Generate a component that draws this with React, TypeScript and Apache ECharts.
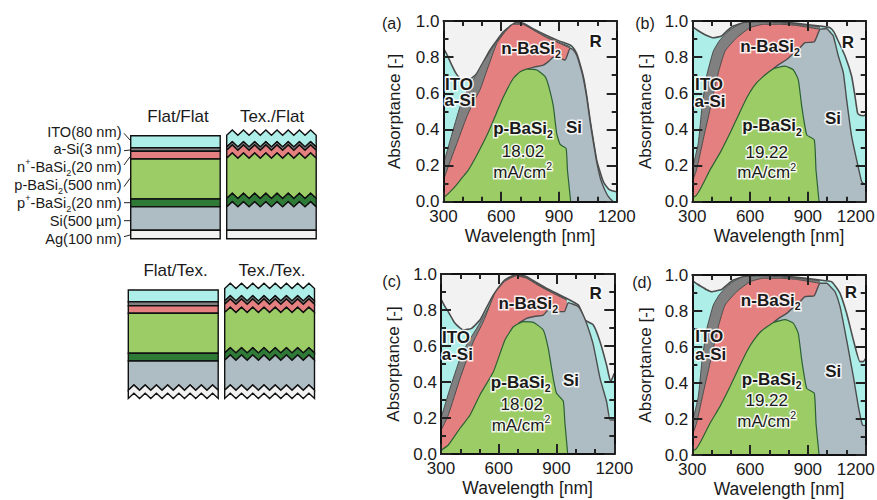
import React, { useEffect, useRef } from "react";
import * as echarts from "echarts";

type Pt = [number, number];

// Panel (a) curves: [wavelength nm, cumulative absorptance]
const totalA: Pt[] = [[300,.85],[320,.81],[343,.756],[365,.71],[386,.683],[410,.67],[430,.673],[450,.687],[473,.71],[505,.77],[542,.84],[575,.89],[611,.94],[650,.975],[680,.993],[715,.987],[770,.955],[836,.92],[900,.89],[958,.867],[975,.85],[992,.82],[1010,.76],[1027,.69],[1045,.58],[1062,.45],[1080,.33],[1096,.23],[1115,.16],[1131,.11],[1150,.08],[1165,.065],[1200,.055]];
const aSiA: Pt[] = [[300,.21],[340,.36],[386,.526],[425,.62],[464,.692],[505,.77],[542,.83],[575,.885],[611,.93],[650,.972],[680,.99],[715,.983],[770,.95],[836,.912],[900,.882],[958,.858]];
const nA: Pt[] = [[300,.12],[309,.148],[365,.31],[421,.47],[455,.55],[490,.62],[530,.74],[577,.876],[620,.94],[663,.982],[715,.98],[770,.948],[836,.908],[900,.878],[958,.85]];
const siA: Pt[] = [[733,.734],[770,.745],[819,.756],[845,.775],[871,.8],[900,.795],[932,.784],[958,.85],[975,.84],[992,.81],[1010,.75],[1027,.68],[1045,.57],[1062,.44],[1080,.32],[1096,.22],[1115,.13],[1131,.083],[1150,.04],[1165,.018],[1182,0]];
const pA: Pt[] = [[300,.02],[330,.05],[360,.083],[395,.13],[429,.175],[479,.27],[531,.38],[575,.49],[611,.58],[663,.683],[700,.72],[733,.734],[785,.729],[828,.692],[845,.645],[871,.526],[888,.378],[906,.317],[937,.295],[944,.175],[961,0]];

// Panel (b)
const totalB: Pt[] = [[300,.97],[325,.95],[348,.935],[375,.92],[409,.907],[452,.917],[480,.945],[513,.972],[582,.996],[669,1],[760,.995],[842,.987],[963,.972],[1015,.963],[1035,.94],[1050,.907],[1093,.806],[1127,.694],[1145,.58],[1158,.49],[1172,.478],[1187,.476],[1200,.48]];
const aSiB: Pt[] = [[300,.18],[331,.324],[350,.52],[374,.694],[409,.833],[440,.89],[478,.935],[520,.968],[565,.99],[669,.995],[760,.99],[842,.982],[963,.968]];
const nB: Pt[] = [[300,.11],[322,.176],[360,.36],[392,.51],[435,.713],[470,.833],[530,.907],[600,.963],[669,.982],[760,.982],[842,.975],[963,.954]];
const siB: Pt[] = [[720,.735],[750,.76],[790,.787],[825,.82],[859,.852],[885,.88],[933,.885],[963,.954],[998,.957],[1018,.935],[1032,.917],[1058,.806],[1084,.713],[1101,.565],[1127,.361],[1153,.231],[1179,.111],[1190,.1],[1200,.1]];
const pB: Pt[] = [[300,.02],[322,.037],[348,.083],[392,.176],[444,.27],[496,.38],[540,.48],[582,.574],[620,.64],[660,.685],[720,.735],[781,.75],[824,.73],[850,.676],[868,.528],[894,.37],[933,.343],[942,.176],[958,0]];

// Panel (c)
const totalC: Pt[] = [[300,.86],[320,.82],[338,.79],[373,.726],[416,.689],[459,.698],[502,.744],[535,.81],[572,.883],[632,.967],[693,.998],[745,.985],[800,.95],[849,.92],[952,.865],[1013,.828],[1030,.79],[1048,.744],[1091,.717],[1126,.624],[1160,.494],[1181,.402],[1200,.448]];
const aSiC: Pt[] = [[300,.2],[347,.365],[399,.531],[440,.62],[485,.698],[530,.78],[572,.865],[632,.957],[693,.994],[745,.98],[800,.945],[849,.915],[952,.86]];
const nC: Pt[] = [[300,.13],[338,.217],[399,.42],[468,.624],[520,.735],[580,.893],[632,.96],[693,.99],[745,.976],[800,.94],[849,.911],[952,.856]];
const siC: Pt[] = [[702,.726],[745,.754],[790,.765],[831,.772],[866,.809],[900,.791],[941,.791],[961,.841],[1013,.819],[1035,.78],[1056,.726],[1091,.606],[1126,.42],[1160,.291],[1178,.189],[1200,.189]];
const pC: Pt[] = [[300,.02],[338,.05],[399,.143],[451,.217],[502,.328],[572,.457],[632,.633],[676,.707],[728,.735],[780,.731],[831,.689],[857,.587],[883,.42],[900,.337],[935,.294],[943,.18],[958,0]];

// Panel (d)
const totalD: Pt[] = [[300,.97],[325,.95],[348,.935],[375,.918],[400,.907],[452,.92],[480,.945],[513,.972],[582,.996],[669,1],[760,.995],[842,.987],[963,.972],[1023,.963],[1045,.935],[1067,.898],[1101,.787],[1136,.639],[1170,.519],[1187,.519],[1200,.537]];
const aSiD: Pt[] = [[300,.18],[331,.324],[350,.52],[374,.694],[409,.833],[440,.89],[478,.935],[520,.968],[565,.99],[669,.995],[760,.99],[842,.982],[963,.968]];
const nD: Pt[] = [[300,.11],[322,.176],[360,.36],[392,.51],[435,.713],[470,.833],[530,.907],[600,.963],[669,.982],[760,.982],[842,.975],[963,.954]];
const siD: Pt[] = [[720,.735],[750,.76],[790,.787],[825,.82],[859,.852],[885,.88],[933,.885],[963,.954],[998,.954],[1020,.932],[1041,.907],[1067,.824],[1101,.639],[1136,.435],[1162,.269],[1183,.167],[1200,.163]];
const pD: Pt[] = [[300,.02],[322,.037],[348,.083],[392,.176],[444,.27],[496,.38],[540,.48],[582,.574],[620,.64],[660,.69],[720,.735],[781,.752],[824,.733],[850,.676],[868,.528],[894,.37],[933,.343],[942,.176],[958,0]];

const jscValues = ["18.02", "19.22", "18.02", "19.22"];
const panelTags = ["(a)", "(b)", "(c)", "(d)"];
const xTicks = { min: 300, max: 1200, step: 300, minorSplit: 3 };
const yTicks = { min: 0, max: 1, step: 0.2, minorSplit: 2 };
// "_2" marks a subscript, "^+" a superscript
const stackLabels = ["ITO(80 nm)", "a-Si(3 nm)", "n^+-BaSi_2(20 nm)", "p-BaSi_2(500 nm)", "p^+-BaSi_2(20 nm)", "Si(500 µm)", "Ag(100 nm)"];
const columnTitles = ["Flat/Flat", "Tex./Flat", "Flat/Tex.", "Tex./Tex."];

const C = {
  r: "#f2f2f2", ito: "#aeeee8", asi: "#808080", n: "#e58080", si: "#aebcc4",
  p: "#9ccc66", pp: "#2e7a36", ag: "#f2f2f2", ink: "#1a1a1a", edge: "#4d4d4d", gEdge: "#2b6134",
};
const FONT = "Liberation Sans, Arial, Helvetica, sans-serif";

const panels = [
  { shift: false, nameGap: 41, curves: [totalA, aSiA, nA, siA, pA], grid: [443.5, 21, 173.2, 180.7], lab: { R: [595.7, 41.7], n: [531, 48], Si: [574, 127], p: [523, 128], j: [523, 151.7], u: [522.7, 172], ITO: [459, 84], aSi: [460, 100.7], tag: [391.7, 23.3] } },
  { shift: true, nameGap: 38, curves: [totalB, aSiB, nB, siB, pB], grid: [692.3, 21, 173.4, 180.7], lab: { R: [848, 42.3], n: [770, 46], Si: [833, 118], p: [772, 125.7], j: [766.7, 152.3], u: [766.7, 172.7], ITO: [709, 84], aSi: [710, 101], tag: [645, 23.3] } },
  { shift: false, nameGap: 39, curves: [totalC, aSiC, nC, siC, pC], grid: [441, 274, 173.3, 180], lab: { R: [595.7, 293.3], n: [528.3, 303.3], Si: [571, 380.7], p: [520.7, 382.3], j: [521.7, 404.3], u: [521, 425], ITO: [456, 337.3], aSi: [457.3, 354.3], tag: [391.7, 281.7] } },
  { shift: true, nameGap: 38, curves: [totalD, aSiD, nD, siD, pD], grid: [692.3, 275, 173.4, 180], lab: { R: [851, 292.3], n: [770.7, 300], Si: [833.3, 371.7], p: [771.7, 379.3], j: [766.7, 400.7], u: [766.7, 421], ITO: [709.3, 336], aSi: [710.7, 354], tag: [642, 282] } },
];

const curveStyles = [
  { fill: C.ito, line: C.edge, w: 1.6 },
  { fill: C.asi, line: C.edge, w: 1 },
  { fill: C.n, line: C.edge, w: 1 },
  { fill: C.si, line: C.edge, w: 1.4 },
  { fill: C.p, line: C.gEdge, w: 1.2 },
];

const halo = { stroke: "rgba(255,255,255,0.88)", lineWidth: 3 };

function richText(raw: string, size: number, bold: boolean, withHalo: boolean) {
  const parts = raw.split(/(_\d|\^.)/).filter(Boolean);
  const text = parts
    .map((s) => (s[0] === "_" ? `{sub|${s[1]}}` : s[0] === "^" ? `{sup|${s[1]}}` : `{t|${s}}`))
    .join("");
  const base: any = { fontFamily: FONT, fontWeight: bold ? "bold" : "normal", fill: C.ink, ...(withHalo ? halo : {}) };
  const lh = size + 6;
  return {
    text,
    rich: {
      t: { ...base, fontSize: size, lineHeight: lh },
      sub: { ...base, fontSize: size * 0.62, lineHeight: lh, verticalAlign: "bottom" },
      sup: { ...base, fontSize: size * 0.62, lineHeight: lh, verticalAlign: "top" },
    },
  };
}

function label(raw: string, pos: number[], size: number, bold = false, withHalo = true, align = "center") {
  return {
    type: "text",
    x: pos[0],
    y: pos[1],
    z: 50,
    silent: true,
    style: { ...richText(raw, size, bold, withHalo), align, verticalAlign: "middle" },
  };
}

// ---- schematic helpers
type Edge = { y: number; zig?: boolean };
const TEETH = 8;
const AMP = 5.2;
function edgePts(x0: number, x1: number, e: Edge): number[][] {
  if (!e.zig) return [[x0, e.y], [x1, e.y]];
  const pts: number[][] = [];
  for (let k = 0; k <= TEETH * 2; k++) {
    pts.push([x0 + ((x1 - x0) * k) / (TEETH * 2), e.y + (k % 2 === 0 ? AMP : 0)]);
  }
  return pts;
}
const layerFills = [C.ito, C.asi, C.n, C.p, C.pp, C.si, C.ag];
function column(x0: number, x1: number, edges: Edge[]) {
  return edges.slice(0, -1).map((top, i) => ({
    type: "polygon",
    z: 5,
    silent: true,
    shape: { points: [...edgePts(x0, x1, top), ...edgePts(x0, x1, edges[i + 1]).reverse()] },
    style: { fill: layerFills[i], stroke: "#111", lineWidth: 1.4, lineJoin: "miter" },
  }));
}
const z = (y: number): Edge => ({ y, zig: true });
const f = (y: number): Edge => ({ y });
const columnsDef: [number, number, Edge[]][] = [
  [130.7, 220.2, [f(135.7), f(147.7), f(151.3), f(159), f(199), f(206.7), f(230.3), f(238.7)]],
  [226.7, 316.2, [z(130), z(141.7), z(145), z(153), z(193.3), z(201.7), f(230.3), f(238.7)]],
  [128.3, 218.2, [f(290), f(301.7), f(305.7), f(313.3), f(353.3), f(361), z(385), z(393.3)]],
  [224.7, 314.5, [z(283.3), z(295.7), z(299), z(307.3), z(347.7), z(355), z(385), z(393.3)]],
];
const labelY = [131.7, 149.3, 167.3, 185, 203.3, 221, 239.3];
const leaders = [
  [124, 133.3, 130, 140], [124, 150.7, 130, 150], [124, 165, 130, 156.7], [124, 186.7, 130, 178.3],
  [124, 202.7, 130, 202.7], [124, 220.7, 130, 220.7], [124, 236.7, 130, 235],
];

export default function App() {
  const ref = useRef<HTMLDivElement>(null);
  useEffect(() => {
    const chart = echarts.init(ref.current!, undefined, { renderer: "svg" });
    const tickLine = { color: "#222222", width: 2 };
    const common: any = {
      axisLine: { show: true, onZero: false, lineStyle: { color: "#111", width: 2 } },
      axisTick: { show: true, inside: true, length: 10, lineStyle: tickLine },
      splitLine: { show: false },
      z: 20,
    };
    const grids: any[] = [], xAxes: any[] = [], yAxes: any[] = [], series: any[] = [], graphics: any[] = [];
    panels.forEach((p, i) => {
      const [left, top, width, height] = p.grid;
      grids.push({ left, top, width, height, show: true, backgroundColor: C.r, borderWidth: 0, outerBoundsMode: "none" });
      const labelBase = { color: C.ink, fontFamily: FONT, fontSize: 17 };
      const xBase = { ...common, gridIndex: i, type: "value", min: xTicks.min, max: xTicks.max, interval: xTicks.step,
        minorTick: { show: true, splitNumber: xTicks.minorSplit, length: 5, lineStyle: tickLine } };
      const yBase = { ...common, gridIndex: i, type: "value", min: yTicks.min, max: yTicks.max, interval: yTicks.step,
        minorTick: { show: true, splitNumber: yTicks.minorSplit, length: 5, lineStyle: tickLine } };
      xAxes.push(
        { ...xBase, position: "bottom",
          axisLabel: {
            ...labelBase, margin: 6,
            formatter: (v: number) => (p.shift && v === xTicks.max ? `{s|${v}}` : String(v)),
            rich: { s: { ...labelBase, padding: [0, 20, 0, 0] } },
          },
          name: "Wavelength [nm]", nameLocation: "middle", nameGap: 25,
          nameTextStyle: { color: C.ink, fontFamily: FONT, fontSize: 17.5 } },
        { ...xBase, position: "top", axisLabel: { show: false } },
      );
      yAxes.push(
        { ...yBase, position: "left",
          axisLabel: { ...labelBase, margin: 4, formatter: (v: number) => v.toFixed(1) },
          name: "Absorptance [-]", nameLocation: "middle", nameGap: p.nameGap, nameRotate: 90,
          nameTextStyle: { color: C.ink, fontFamily: FONT, fontSize: 17 } },
        { ...yBase, position: "right", axisLabel: { show: false } },
      );
      p.curves.forEach((data, k) => {
        const st = curveStyles[k];
        series.push({
          type: "line", xAxisIndex: i * 2, yAxisIndex: i * 2, data, showSymbol: false, symbol: "none",
          smooth: 0.15, silent: true, z: 2 + k,
          lineStyle: { color: st.line, width: st.w },
          areaStyle: { color: st.fill, opacity: 1 },
        });
      });
      const l = p.lab;
      graphics.push(
        label("R", l.R, 17, true),
        label("n-BaSi_2", l.n, 17, true),
        label("Si", l.Si, 17, true),
        label("p-BaSi_2", l.p, 17, true),
        label(jscValues[i], l.j, 17),
        label("mA/cm^2", l.u, 17),
        label("ITO", l.ITO, 17, true),
        label("a-Si", l.aSi, 17, true),
        label(panelTags[i], l.tag, 16, false, false),
      );
    });

    // Schematic
    columnsDef.forEach(([a, b, edges]) => graphics.push(...column(a, b, edges)));
    stackLabels.forEach((t, i) => graphics.push(label(t, [121.5, labelY[i]], 14.6, false, false, "right")));
    leaders.forEach((s) =>
      graphics.push({ type: "line", silent: true, z: 5, shape: { x1: s[0], y1: s[1], x2: s[2], y2: s[3] }, style: { stroke: "#222", lineWidth: 1 } }),
    );
    const titlePos = [[178, 116], [272, 116], [175.5, 270], [272, 270]];
    columnTitles.forEach((t, i) => graphics.push(label(t, titlePos[i], 17, false, false)));

    chart.setOption({
      animation: false,
      backgroundColor: "#fff",
      grid: grids,
      xAxis: xAxes,
      yAxis: yAxes,
      series,
      graphic: { elements: graphics },
    });
    return () => chart.dispose();
  }, []);
  return <div ref={ref} style={{ position: "absolute", left: 0, top: 0, width: 877, height: 500 }} />;
}
